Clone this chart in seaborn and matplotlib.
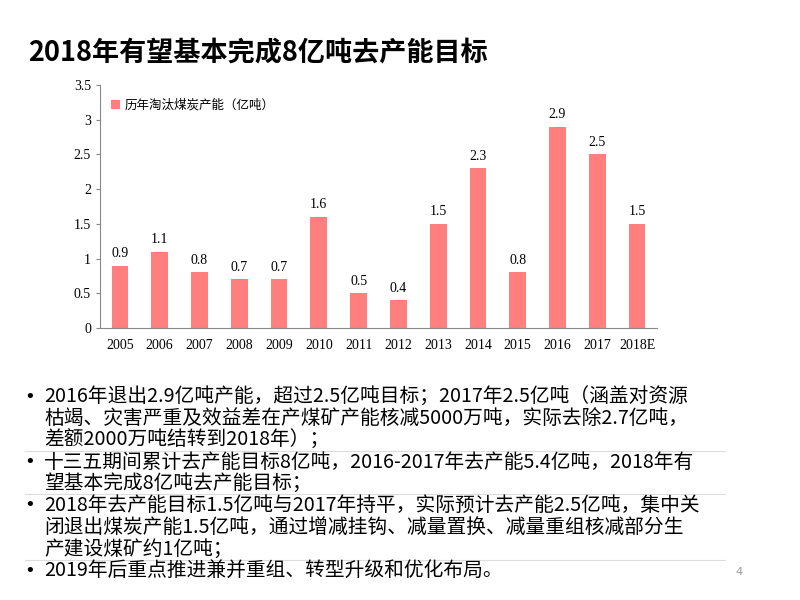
import matplotlib
matplotlib.use("Agg")
import matplotlib.pyplot as plt
import seaborn as sns
import pandas as pd

years = ["2005","2006","2007","2008","2009","2010","2011","2012","2013","2014","2015","2016","2017","2018E"]
values = [0.9,1.1,0.8,0.7,0.7,1.6,0.5,0.4,1.5,2.3,0.8,2.9,2.5,1.5]
yticks = [0,0.5,1,1.5,2,2.5,3,3.5]
ytick_labels = ["0","0.5","1","1.5","2","2.5","3","3.5"]
series_name = "历年淘汰煤炭产能（亿吨）"
title = "2018年有望基本完成8亿吨去产能目标"
bullets = [
    ["2016年退出2.9亿吨产能，超过2.5亿吨目标；2017年2.5亿吨（涵盖对资源",
     "枯竭、灾害严重及效益差在产煤矿产能核减5000万吨，实际去除2.7亿吨，",
     "差额2000万吨结转到2018年）；"],
    ["十三五期间累计去产能目标8亿吨，2016-2017年去产能5.4亿吨，2018年有",
     "望基本完成8亿吨去产能目标；"],
    ["2018年去产能目标1.5亿吨与2017年持平，实际预计去产能2.5亿吨，集中关",
     "闭退出煤炭产能1.5亿吨，通过增减挂钩、减量置换、减量重组核减部分生",
     "产建设煤矿约1亿吨；"],
    ["2019年后重点推进兼并重组、转型升级和优化布局。"],
]

cjk = "Noto Sans CJK SC"
serif = "Liberation Serif"
W, H = 800, 600
fig = plt.figure(figsize=(8, 6), dpi=100)
df = pd.DataFrame({"year": years, "value": values})
ax = fig.add_axes([100/W, 1-328/H, 557/W, 243/H])
sns.barplot(data=df, x="year", y="value", color="#FF7F7F", saturation=1, width=0.42, ax=ax)
ax.set_ylim(0, 3.5)
ax.set_xlim(-0.5, len(years) - 0.5)
ax.set_yticks(yticks, ytick_labels, fontfamily=serif, fontsize=10)
ax.set_xticks(range(len(years)), years, fontfamily=serif, fontsize=10)
ax.set_xlabel(""); ax.set_ylabel("")
for s in ["top", "right"]:
    ax.spines[s].set_visible(False)
for s in ["left", "bottom"]:
    ax.spines[s].set_color("#888888")
ax.tick_params(axis="x", length=0, pad=8)
ax.tick_params(axis="y", length=3, color="#888888")
for i, v in enumerate(values):
    ax.text(i, v + 0.08, f"{v}", ha="center", va="bottom", fontfamily=serif, fontsize=10)
ax.bar([0], [0], color="#FF7F7F", label=series_name)
ax.legend(loc="upper left", bbox_to_anchor=(0.0, 0.99), frameon=False,
          prop={"family": cjk, "size": 9}, handlelength=0.7, handleheight=0.7, handletextpad=0.4)

fig.text(28/W, 1-52/H, title, fontfamily=cjk, fontweight="bold", fontsize=19.5, va="center", ha="left")

y = 397
for bi, lines in enumerate(bullets):
    fig.text(24/W, 1-y/H, "•", fontsize=13, va="center", ha="left")
    for ln in lines:
        fig.text(44/W, 1-y/H, ln, fontfamily=cjk, fontsize=14.2, va="center", ha="left")
        y += 21.7
    if bi < len(bullets) - 1:
        fig.add_artist(plt.Line2D([25/W, 725/W], [1-(y-11)/H]*2, color="#DDDDDD", lw=0.8))
fig.text(735/W, 1-572/H, "4", fontsize=8, color="#999999", va="center")
fig.savefig("out.png", dpi=100)
